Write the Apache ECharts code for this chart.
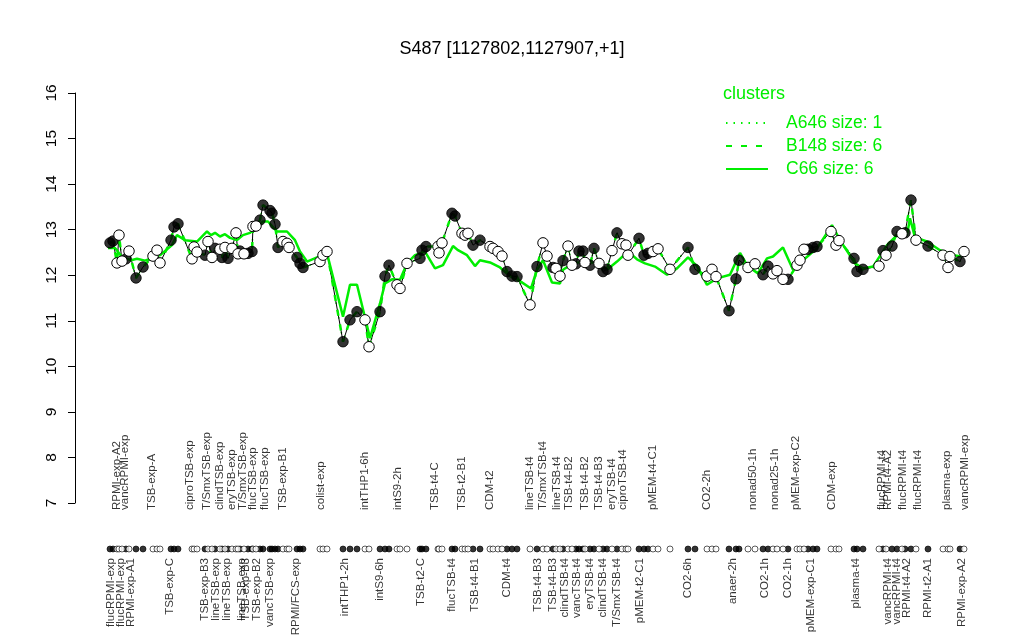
<!DOCTYPE html>
<html><head><meta charset="utf-8">
<script src="https://cdn.jsdelivr.net/npm/echarts@6/dist/echarts.min.js"></script>
<style>html,body{margin:0;padding:0;background:#fff}#c{width:1024px;height:640px}</style>
</head><body><div id="c"></div>
<script>
// sample positions along the x axis (arbitrary position units)
const posX = [110,113,117,119,122,126,129,136,143, 153,157,160, 171,174,178, 192,194,197,
 205,208,212,215,220,222,225,228,232,236,238,240,244,248,252,253,256,260,263,270,272,275,278,283,287,289,297,300,303,
 320,323,327, 343,350,357, 365,369, 380,385,389, 397,400,407, 420,422,426, 438,439,442, 452,455, 462,465,468, 473,480,
 490,493,498,502, 507,512,517,
 530,537,543,547,553,556,560,563,568,572,576,579,583,585,590,594,599,603,607,612,617,622,626,628,
 639,644,648, 653,658,670, 688,695, 707,712,716, 729,736,739, 748,755, 763,768, 773,777,783, 788,
 797,800,804, 808,813,817, 831,836,839, 854,857,863, 879,883,886,892,897,902,905,911,916, 928, 943,948,950, 960,964];
// expression values
const valY = [12.71,12.75,12.27,12.88,12.31,12.36,12.53,11.94,12.18, 12.42,12.55,12.27, 12.77,13.06,13.13, 12.36,12.62,12.51,
 12.44,12.74,12.39,12.59,12.57,12.39,12.61,12.37,12.59,12.93,12.47,12.53,12.47,12.48,12.52,13.07,13.08,13.21,13.54,13.42,13.36,13.12,12.61,12.74,12.70,12.61,12.39,12.26,12.17,
 12.30,12.44,12.52, 10.54,11.02,11.20, 11.02,10.43, 11.20,11.98,12.22, 11.79,11.71,12.26, 12.37,12.55,12.63, 12.63,12.49,12.71, 13.36,13.30, 12.92,12.88,12.92, 12.66,12.77,
 12.63,12.59,12.52,12.42, 12.08,11.98,11.97,
 11.35,12.19,12.71,12.42,12.17,12.15,11.98,12.32,12.64,12.22,12.25,12.53,12.53,12.28,12.22,12.59,12.26,12.08,12.13,12.54,12.93,12.69,12.66,12.44,
 12.81,12.44,12.48, 12.52,12.58,12.13, 12.61,12.13, 11.98,12.13,11.97, 11.22,11.92,12.33, 12.17,12.25, 12.01,12.20, 12.03,12.10,11.91, 11.91,
 12.22,12.33,12.57, 12.57,12.61,12.63, 12.96,12.66,12.76, 12.37,12.08,12.13, 12.20,12.54,12.44,12.64,12.96,12.91,12.93,13.65,12.77, 12.64, 12.44,12.17,12.41, 12.30,12.52];
// 1 = filled marker, 0 = open marker
const filled = [1,1,0,0,0,1,0,1,1, 0,0,0, 1,1,1, 0,0,0,
 1,0,0,1,0,1,0,1,0,0,0,1,0,1,1,0,0,1,1,1,1,1,1,0,0,0,1,1,1,
 0,0,0, 1,1,1, 0,0, 1,1,1, 0,0,0, 1,1,1, 0,0,0, 1,1, 0,0,0, 1,1,
 0,0,0,0, 1,1,1,
 0,1,0,0,1,0,0,1,0,0,1,1,1,0,1,1,0,1,1,0,1,0,0,0,
 1,1,1, 0,0,0, 1,1, 0,0,0, 1,1,1, 0,0, 1,1, 0,0,0, 1,
 0,0,0, 1,1,1, 0,0,0, 1,1,1, 0,1,0,1,1,0,1,1,0, 1, 0,0,0, 1,0];
// cluster C66 mean profile
const greenX = [108,115,122,131,137,145,160,172,177,185,197,207,211,215,220,225,230,237,243,250,255,263,268,277,287,295,300,307,320,327,
 343,350,357,370,380,385,392,400,407,415,425,435,443,453,458,467,475,480,490,500,510,520,531,537,543,552,560,563,573,585,597,607,617,628,
 637,645,655,667,677,688,697,707,717,730,740,748,758,767,773,783,793,803,817,832,840,855,863,873,887,897,907,910,915,927,940,953,962];
const greenY = [12.60,12.60,12.40,12.33,12.36,12.32,12.44,12.66,12.88,12.77,12.74,12.96,12.88,12.93,12.85,12.90,12.82,12.77,12.88,12.93,13.03,13.18,13.18,12.96,12.96,12.77,12.52,12.30,12.42,12.48,
 11.09,11.79,11.79,10.62,11.38,11.82,11.91,11.90,12.26,12.44,12.52,12.15,12.22,12.64,12.55,12.44,12.20,12.33,12.28,12.17,11.98,11.87,11.71,12.12,12.33,11.84,11.82,12.12,12.26,12.30,12.26,12.12,12.30,12.52,
 12.35,12.26,12.19,12.01,12.15,12.39,12.20,11.79,11.93,12.01,12.49,12.19,12.04,12.37,12.41,12.61,12.12,12.33,12.59,13.10,12.77,12.26,12.15,12.19,12.66,12.88,12.88,13.25,12.83,12.74,12.55,12.44,12.41];
// category labels above and below the rug
const topLabelX = [117,125,152,190,207,220,232,243,253,265,283, 321,365,398,435,462,490, 530,543,557,569,585,599,612,623,653,707, 753,775,796,832,882,888,903,918,947,965];
const topLabelText = ["RPMI-exp-A2","vancRPMI-exp","TSB-exp-A","ciproTSB-exp","T/SmxTSB-exp","clindTSB-exp","eryTSB-exp","T/SmxTSB-exp","flucTSB-exp","flucTSB-exp","TSB-exp-B1",
 "colist-exp","intTHP1-6h","intS9-2h","TSB-t4-C","TSB-t2-B1","CDM-t2",
 "lineTSB-t4","T/SmxTSB-t4","lineTSB-t4","TSB-t4-B2","TSB-t4-B2","TSB-t4-B3","eryTSB-t4","ciproTSB-t4","pMEM-t4-C1","CO2-2h",
 "nonad50-1h","nonad25-1h","pMEM-exp-C2","CDM-exp","flucRPMI-t4","RPMI-t4-A2","flucRPMI-t4","flucRPMI-t4","plasma-exp","vancRPMI-exp"];
const bottomLabelX = [111,121,131,170,205,216,227,242,246,257,270,296, 345,380,421,452,475,507, 538,553,565,577,590,603,617,640,688, 733,765,788,811,856,888,897,907,928,962];
const bottomLabelText = ["flucRPMI-exp","flucRPMI-exp","RPMI-exp-A1","TSB-exp-C","TSB-exp-B3","lineTSB-exp","lineTSB-exp","lineTSB-exp","TSB-exp-B3","TSB-exp-B2","vancTSB-exp","RPMI/FCS-exp",
 "intTHP1-2h","intS9-6h","TSB-t2-C","flucTSB-t4","TSB-t4-B1","CDM-t4",
 "TSB-t4-B3","TSB-t4-B3","clindTSB-t4","vancTSB-t4","eryTSB-t4","clindTSB-t4","T/SmxTSB-t4","pMEM-t2-C1","CO2-6h",
 "anaer-2h","CO2-1h","CO2-1h","pMEM-exp-C1","plasma-t4","vancRPMI-t4","vancRPMI-t4","RPMI-t4-A2","RPMI-t2-A1","RPMI-exp-A2"];
const yTicks = [7,8,9,10,11,12,13,14,15,16];

const GREEN = '#00ee00';
const FONT = 'Liberation Sans, Arial, Helvetica, sans-serif';
const pts = posX.map((x,i)=>[x,valY[i]]);
const filledPts = pts.filter((p,i)=>filled[i]===1);
const openPts = pts.filter((p,i)=>filled[i]===0);
const greenPts = greenX.map((x,i)=>[x,greenY[i]]);
const rugFilled = posX.filter((x,i)=>filled[i]===1).map(x=>[x,0]);
const rugOpen = posX.filter((x,i)=>filled[i]===0).map(x=>[x,0]);
const topLab = topLabelX.map((x,i)=>({value:[x,0],name:topLabelText[i]}));
const botLab = bottomLabelX.map((x,i)=>({value:[x,0],name:bottomLabelText[i]}));

const chart = echarts.init(document.getElementById('c'), null, {renderer:'canvas'});
const labelCommon = {show:true, rotate:90, fontSize:11.5, color:'#000', fontFamily:FONT, formatter:p=>p.name};
chart.setOption({
  animation:false,
  backgroundColor:'#fff',
  title:[
    {text:'S487 [1127802,1127907,+1]', left:'center', top:35, textStyle:{fontSize:18, fontWeight:'normal', color:'#000', fontFamily:FONT}},
    {text:'clusters', left:718, top:80, textStyle:{fontSize:18, fontWeight:'normal', color:GREEN, fontFamily:FONT}}
  ],
  legend:{
    orient:'vertical', left:720, top:109, itemWidth:42, itemHeight:14, itemGap:5,
    data:['A646 size: 1','B148 size: 6','C66 size: 6'],
    itemStyle:{opacity:0},
    textStyle:{fontSize:17.5, color:GREEN, fontFamily:FONT, padding:[0,0,0,13], lineHeight:14},
    selectedMode:false
  },
  grid:[
    {left:75, right:34, top:93, bottom:137},
    {left:75, right:34, top:540, height:18}
  ],
  xAxis:[
    {gridIndex:0, type:'value', min:75, max:990, show:false},
    {gridIndex:1, type:'value', min:75, max:990, show:false}
  ],
  yAxis:[
    {gridIndex:0, type:'value', min:7, max:16, interval:1,
     axisLine:{show:true, lineStyle:{color:'#000', width:1}},
     axisTick:{show:true, length:7, lineStyle:{color:'#000'}},
     splitLine:{show:false},
     axisLabel:{rotate:90, fontSize:15.5, color:'#000', fontFamily:FONT, margin:15,
       formatter:v=>yTicks.includes(v)?String(v):''}},
    {gridIndex:1, type:'value', min:-1, max:1, show:false}
  ],
  series:[
    {name:'A646 size: 1', type:'line', data:pts, symbol:'none', z:1,
     lineStyle:{color:GREEN, width:1.5, type:[1.5,6]}, itemStyle:{color:GREEN}},
    {name:'black', type:'line', data:pts, symbol:'none', z:2,
     lineStyle:{color:'#000', width:1}},
    {name:'B148 size: 6', type:'line', data:pts, symbol:'none', z:3,
     lineStyle:{color:GREEN, width:2.5, type:[6,9]}, itemStyle:{color:GREEN}},
    {name:'C66 size: 6', type:'line', data:greenPts, symbol:'none', z:3,
     lineStyle:{color:GREEN, width:2.5}, itemStyle:{color:GREEN}},
    {name:'filled', type:'scatter', data:filledPts, symbol:'circle', symbolSize:10.5, z:5,
     itemStyle:{color:'#000', borderColor:'#000', borderWidth:1}},
    {name:'open', type:'scatter', data:openPts, symbol:'circle', symbolSize:10.5, z:5,
     itemStyle:{color:'#fff', borderColor:'#000', borderWidth:1, opacity:1}},
    {name:'rugF', type:'scatter', xAxisIndex:1, yAxisIndex:1, data:rugFilled, symbolSize:6,
     itemStyle:{color:'#000', borderColor:'#000', borderWidth:0.8}},
    {name:'rugO', type:'scatter', xAxisIndex:1, yAxisIndex:1, data:rugOpen, symbolSize:6,
     itemStyle:{color:'#fff', borderColor:'#000', borderWidth:0.8}},
    {name:'topLab', type:'scatter', xAxisIndex:1, yAxisIndex:1, data:topLab, symbolSize:0, silent:true,
     label:Object.assign({}, labelCommon, {position:'top', distance:39, align:'left', verticalAlign:'middle'})},
    {name:'botLab', type:'scatter', xAxisIndex:1, yAxisIndex:1, data:botLab, symbolSize:0, silent:true,
     label:Object.assign({}, labelCommon, {position:'bottom', distance:9, align:'right', verticalAlign:'middle'})}
  ]
});
</script></body></html>
